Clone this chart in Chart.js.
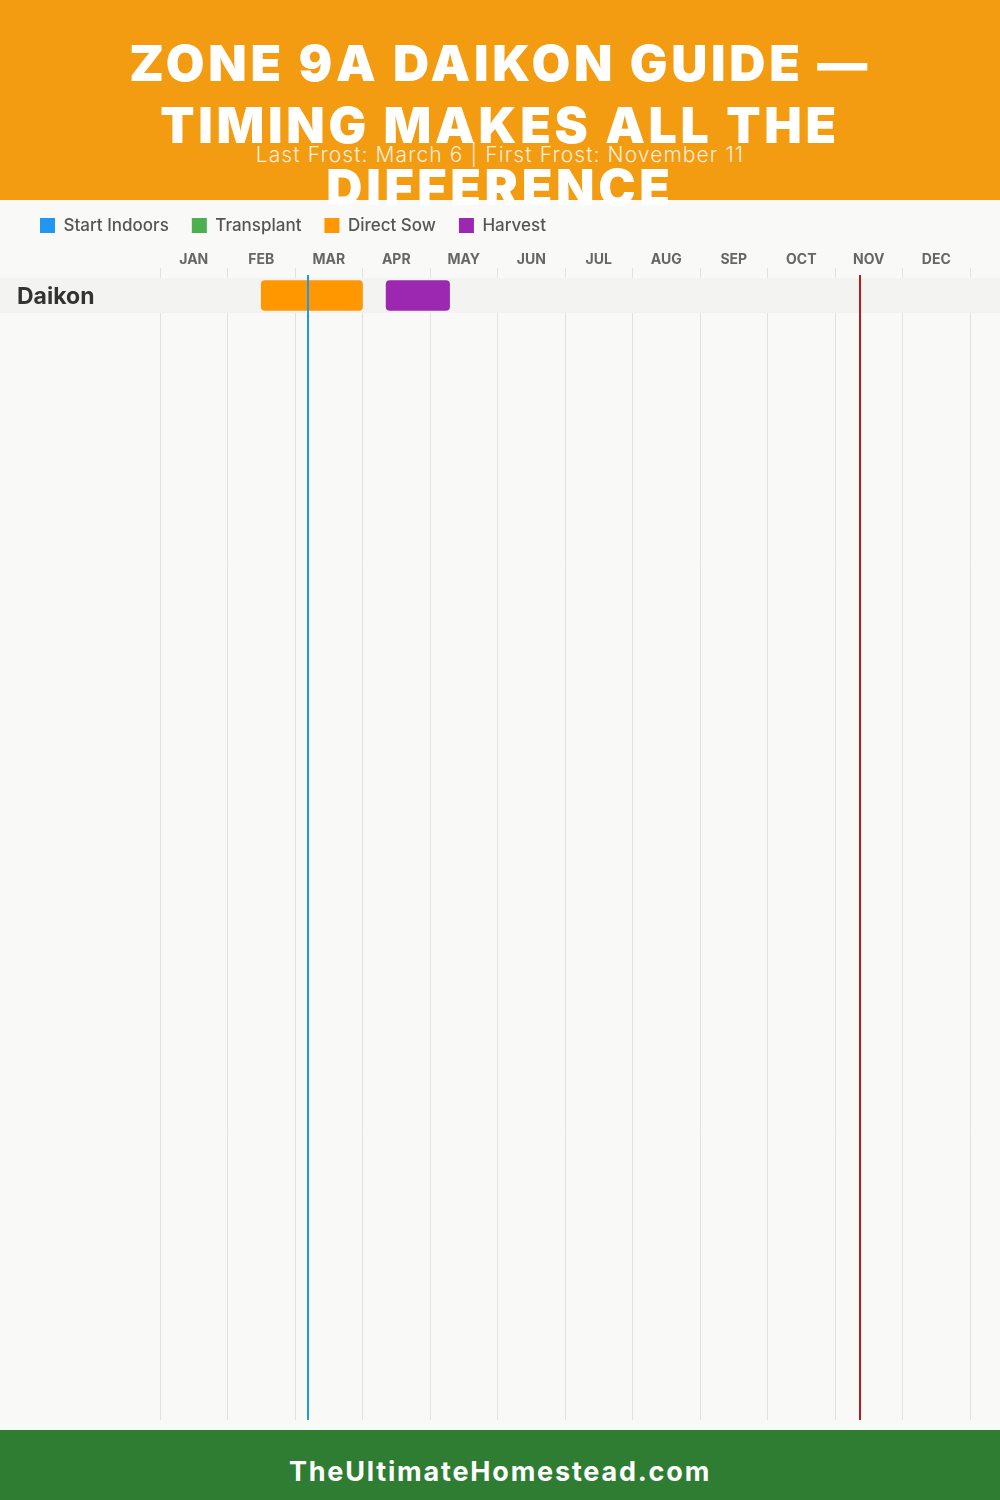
<!DOCTYPE html>
<html>
<head>
<meta charset="utf-8">
<script src="https://cdn.jsdelivr.net/npm/chart.js@4/dist/chart.umd.min.js"></script>
<style>
  body { margin: 0; width: 1000px; height: 1500px; background: #f9f9f7; position: relative; overflow: hidden; font-family: Inter, sans-serif; }
  #header { height: 200px; background: #f39c12; position: relative; text-align: center; }
  #header h1 { margin: 0; padding-top: 32px; font-size: 50px; line-height: 62px; font-weight: 900; color: #fff; letter-spacing: 3.7px; }
  #header .sub { position: absolute; left: 0; right: 0; top: 142px; font-size: 21px; font-weight: 300; color: rgba(255,255,255,0.85); letter-spacing: 1.1px; }
  #chartBox { position: absolute; left: 0; top: 194px; width: 1000px; height: 1236px; }
  #footer { position: absolute; left: 0; top: 1430px; width: 1000px; height: 70px; background: #2e7d32; color: #fff;
            font-weight: 700; font-size: 27px; line-height: 84px; text-align: center; letter-spacing: 1.8px; overflow: hidden; }
</style>
</head>
<body>
<div id="header">
  <h1>ZONE 9A DAIKON GUIDE —<br>TIMING MAKES ALL THE<br>DIFFERENCE</h1>
  <div class="sub">Last Frost: March 6 | First Frost: November 11</div>
</div>
<div id="chartBox"><canvas id="chart"></canvas></div>
<div id="footer">TheUltimateHomestead.com</div>

<script>
// Datos del calendario (posiciones en meses: 0 = 1 ene, 12 = 31 dic)
const months = ['JAN', 'FEB', 'MAR', 'APR', 'MAY', 'JUN', 'JUL', 'AUG', 'SEP', 'OCT', 'NOV', 'DEC'];
const crops = ['Daikon'];
const startIndoors = [null];
const transplant = [null];
const directSow = [[1.5, 3.0]];
const harvest = [[3.35, 4.29]];
const lastFrost = 2.19;   // March 6
const firstFrost = 10.37; // November 11

const ROW_BAND = '#f3f3f1';

function toBars(ranges) {
    return ranges.map((r, i) => r ? { x: r, y: i } : null).filter(p => p);
}

function fillBands(chart, fromX) {
    const { ctx, scales: { y } } = chart;
    ctx.save();
    ctx.fillStyle = ROW_BAND;
    crops.forEach((c, i) => {
        const top = y.getPixelForValue(i - 0.5);
        const bottom = y.getPixelForValue(i + 0.5);
        ctx.fillRect(fromX, top, chart.width - fromX, bottom - top);
    });
    ctx.restore();
}

// Banda gris detras de cada fila (debajo de la etiqueta y encima de la grilla)
const rowBands = {
    id: 'rowBands',
    beforeDraw(chart) { fillBands(chart, 0); },
    beforeDatasetsDraw(chart) { fillBands(chart, chart.chartArea.left); }
};

// Lineas de heladas
const frostLines = {
    id: 'frostLines',
    afterDatasetsDraw(chart) {
        const { ctx, chartArea, scales: { x } } = chart;
        [[lastFrost, '#2196f3'], [firstFrost, '#b71c1c']].forEach(([v, color]) => {
            const px = Math.round(x.getPixelForValue(v));
            ctx.save();
            ctx.strokeStyle = color;
            ctx.lineWidth = 2;
            ctx.beginPath();
            ctx.moveTo(px, chartArea.top - 3);
            ctx.lineTo(px, chartArea.bottom);
            ctx.stroke();
            ctx.restore();
        });
    }
};

const barStyle = { barThickness: 30, borderRadius: 4, borderSkipped: false, borderWidth: 0, grouped: false };

new Chart(document.getElementById('chart'), {
    type: 'bar',
    data: {
        datasets: [
            { label: 'Start Indoors', data: toBars(startIndoors), backgroundColor: '#2196f3', ...barStyle },
            { label: 'Transplant', data: toBars(transplant), backgroundColor: '#4caf50', ...barStyle },
            { label: 'Direct Sow', data: toBars(directSow), backgroundColor: '#ff9800', ...barStyle },
            { label: 'Harvest', data: toBars(harvest), backgroundColor: '#9c27b0', ...barStyle }
        ]
    },
    options: {
        indexAxis: 'y',
        responsive: true,
        maintainAspectRatio: false,
        animation: false,
        layout: { padding: { left: 17, right: 30, top: 0, bottom: 10 } },
        plugins: {
            legend: {
                position: 'top',
                align: 'start',
                onClick: null,
                labels: {
                    boxWidth: 15,
                    boxHeight: 15,
                    padding: 23,
                    color: '#555',
                    font: { family: 'Inter', size: 17, weight: '500' }
                }
            },
            tooltip: { enabled: false }
        },
        scales: {
            x: {
                type: 'linear',
                position: 'top',
                min: 0,
                max: 12,
                afterFit: s => { s.height = 34; },
                ticks: {
                    stepSize: 1,
                    autoSkip: false,
                    maxRotation: 0,
                    labelOffset: 33.75,
                    padding: 0,
                    color: '#666',
                    font: { family: 'Inter', size: 14, weight: '700' },
                    callback: v => months[v] || ''
                },
                grid: { color: '#e2e2e0', tickLength: 10 },
                border: { display: false }
            },
            y: {
                type: 'linear',
                reverse: true,
                offset: false,
                min: -0.5,
                max: 32.13,
                afterFit: s => { s.width = 143; s.paddingTop = 0; s.paddingBottom = 0; },
                afterBuildTicks: s => { s.ticks = crops.map((c, i) => ({ value: i })); },
                ticks: {
                    crossAlign: 'far',
                    labelOffset: 2,
                    color: '#333',
                    font: { family: 'Inter', size: 23, weight: '700' },
                    callback: v => crops[v]
                },
                grid: { display: false, offset: false },
                border: { display: false }
            }
        }
    },
    plugins: [rowBands, frostLines]
});
</script>
</body>
</html>
